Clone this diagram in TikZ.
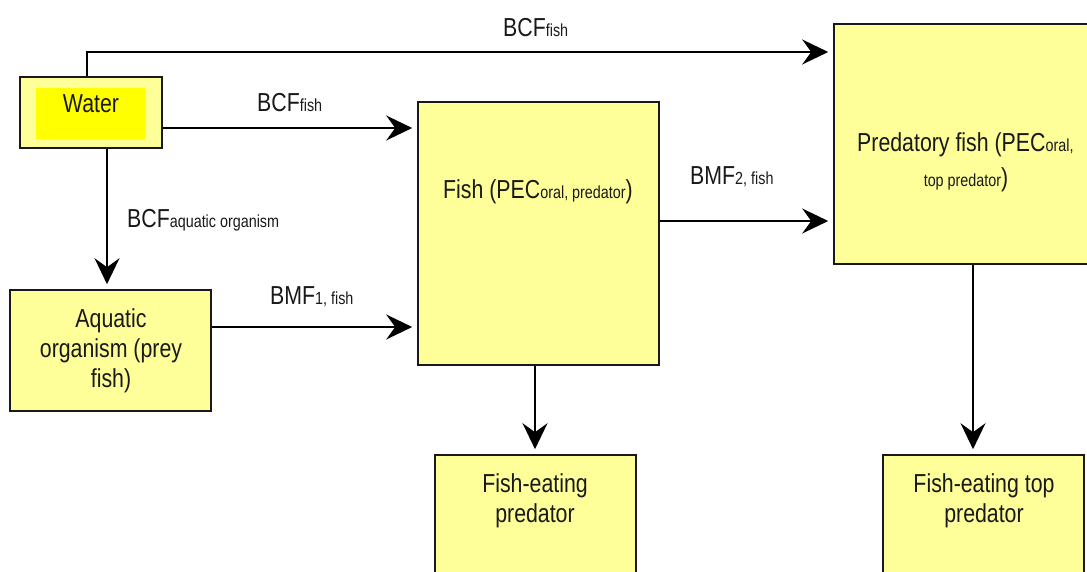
\documentclass[tikz,border=0pt]{standalone}
\usepackage{fontspec}
\setmainfont[FakeStretch=0.82]{Liberation Sans}
\usetikzlibrary{arrows.meta}
\definecolor{boxfill}{HTML}{FFFF99}
\definecolor{inner}{HTML}{FFFF00}
\newcommand\sbs[1]{{\fontsize{17.5}{20}\selectfont #1}}
\begin{document}
\begin{tikzpicture}[x=1pt,y=-1pt,
  box/.style={draw=black!90, line width=1.6pt, fill=boxfill, rectangle, inner sep=0pt},
  arr/.style={-{Stealth[length=26pt,width=25pt,inset=9pt]}, line width=1.6pt, shorten >=5pt},
  txt/.style={font=\fontsize{26}{30}\selectfont, inner sep=0pt, text=black!90},
  lbl/.style={font=\fontsize{26}{30}\selectfont, inner sep=0pt, anchor=base west, text=black!90}]
\useasboundingbox (0,0) rectangle (1087,572);
\clip (0,0) rectangle (1087,572);
\fill[white] (0,0) rectangle (1087,572);
% boxes
\node[box, minimum width=142pt, minimum height=71pt] (water) at (91,112.5) {};
\node[fill=inner, inner sep=0pt, minimum width=109pt, minimum height=51pt] (waterin) at (90.5,113.5) {};
\node[box, minimum width=201pt, minimum height=121pt] (aquatic) at (110.5,350.5) {};
\node[box, minimum width=241pt, minimum height=263pt] (fish) at (538.5,233.5) {};
\node[box, minimum width=278pt, minimum height=240pt] (pred) at (973,144) {};
\node[box, minimum width=201pt, minimum height=145pt] (fep) at (535.5,527.5) {};
\node[box, minimum width=201pt, minimum height=145pt] (fetp) at (983.5,527.5) {};
% texts
\node[txt, anchor=base] (twater) at (91,113) {Water};
\node[txt, anchor=base west] (tfish) at (443,199) {Fish (PEC\sbs{oral, predator})};
\node[txt, anchor=base west] (tpred1) at (857,152) {Predatory fish (PEC\sbs{oral,}};
\node[txt, anchor=base] (tpred2) at (966,187) {\sbs{top predator})};
\node[txt, anchor=base] (taq1) at (111,327) {Aquatic};
\node[txt, anchor=base] (taq2) at (111,357) {organism (prey};
\node[txt, anchor=base] (taq3) at (111,387) {fish)};
\node[txt, anchor=base] (tfep1) at (535,492) {Fish-eating};
\node[txt, anchor=base] (tfep2) at (535,522) {predator};
\node[txt, anchor=base] (tfetp1) at (984,492) {Fish-eating top};
\node[txt, anchor=base] (tfetp2) at (984,522) {predator};
% connectors
\draw[arr] ([xshift=-4pt]water.north) |- (pred.west |- 0,52);
\draw[arr] (water.east |- 0,128) -- (fish.west |- 0,128);
\draw[arr] (water.south -| 107,0) -- (aquatic.north -| 107,0);
\draw[arr] (aquatic.east |- 0,327) -- (fish.west |- 0,327);
\draw[arr] (fish.east |- 0,221) -- (pred.west |- 0,221);
\draw[arr] (fish.south -| 535,0) -- (fep.north -| 535,0);
\draw[arr] (pred.south -| 973,0) -- (fetp.north -| 973,0);
% labels
\node[lbl] (l1) at (503,37) {BCF\sbs{fish}};
\node[lbl] (l2) at (257,112) {BCF\sbs{fish}};
\node[lbl] (l3) at (127,228) {BCF\sbs{aquatic organism}};
\node[lbl] (l4) at (270,304) {BMF\sbs{1, fish}};
\node[lbl] (l5) at (690,185) {BMF\sbs{2, fish}};
\end{tikzpicture}
\end{document}
